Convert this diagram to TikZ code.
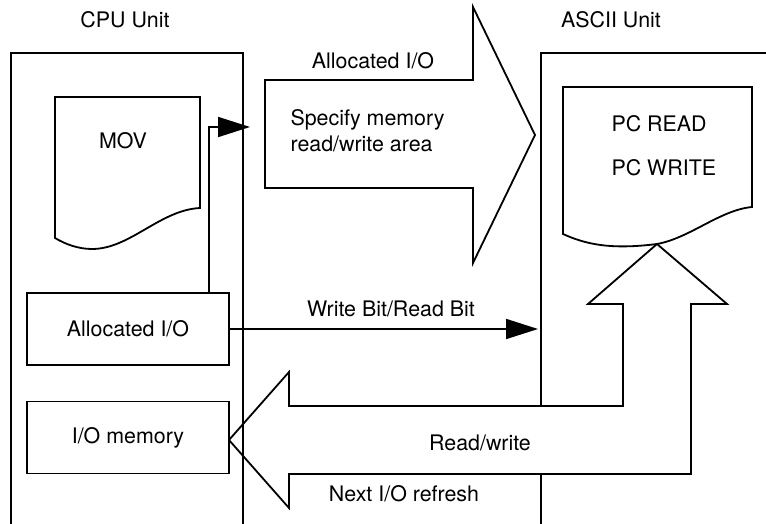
\documentclass[tikz,border=0pt]{standalone}
\usepackage{fontspec}
\setmainfont{TeX Gyre Heros}
\usetikzlibrary{arrows.meta,calc}

\begin{document}
\begin{tikzpicture}[x=0.5pt,y=-0.5pt,line width=0.9pt,font=\fontsize{10.7}{13}\selectfont,
  membox/.style={draw,minimum width=101pt,minimum height=36pt,inner sep=0pt},
  bittip/.style={-{Triangle[length=16pt,width=10pt]}}]
\useasboundingbox(0,0)rectangle(766,524);
\node(cpu)at(125,20){CPU Unit};\node(ascii)at(611,20){ASCII Unit};
\draw(541,524)--(541,53)--(766,53);
% documents
\draw(55,97)--(200,97)--(200,208)..controls(160,210)and(130,249)..(92,249)..controls(78,249)and(65,244)..(55,238)--cycle;
\node(mov)at(123,141){MOV};
\draw(563,87)--(752,87)--(752,207)..controls(720,210)and(690,238)..(657,244)..controls(610,250)and(585,244)..(563,234)--cycle;
\node[anchor=west](pcread)at(604,124){PC READ};\node[anchor=west](pcwrite)at(604,168){PC WRITE};
% block arrows
\draw[fill=white](265,80)--(473,80)--(473,7)--(535,135)--(473,263)--(473,188)--(265,188)--cycle;
\node(allochead)at(373,61){Allocated I/O};
\node[anchor=west,align=left](spec)at(283,131){Specify memory\\read/write area};
\draw[fill=white](229,440)--(289,372)--(289,406)--(623,406)--(623,304)--(588,304)--(657,244)--(727,304)--(691,304)--(691,474)--(289,474)--(289,508)--cycle;
\node(rw)at(480,443){Read/write};\node(refresh)at(404,494){Next I/O refresh};
\draw(11,524)--(11,53)--(243,53)--(243,524);
% CPU memory
\node[membox](alloc)at(128,329){Allocated I/O};
\node[membox](iomem)at(128,437.5){I/O memory};
\coordinate(specin)at(250,127);\coordinate(asciiin)at(538,329);
\draw[bittip]($(alloc.north east)+(-21,0)$)|-(specin);
\draw[bittip](alloc.east)--(asciiin);
\node(wrbit)at(391,309){Write Bit/Read Bit};
\end{tikzpicture}
\end{document}
